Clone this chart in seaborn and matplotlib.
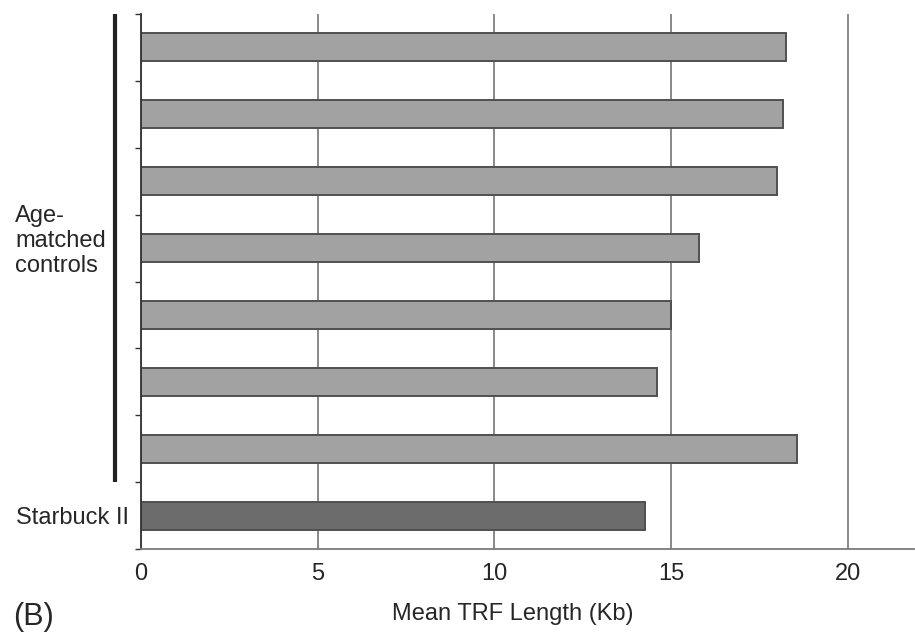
import pandas as pd
import matplotlib
matplotlib.use("Agg")
import matplotlib.pyplot as plt
import matplotlib.transforms as mtransforms
import seaborn as sns

# data
samples = ["Control 1", "Control 2", "Control 3", "Control 4",
           "Control 5", "Control 6", "Control 7", "Starbuck II"]
trf_length = [18.25, 18.15, 18.0, 15.8, 15.0, 14.6, 18.55, 14.25]
groups = ["control"] * 7 + ["starbuck"]
tick_labels = ["Starbuck II"]

df = pd.DataFrame({"sample": samples, "trf": trf_length, "group": groups})

sns.set_style("white")
plt.rcParams["font.family"] = ["Liberation Sans", "DejaVu Sans"]

fig = plt.figure(figsize=(9.15, 6.32), dpi=100)
ax = fig.add_axes([141 / 915, 1 - 549 / 632, 773 / 915, 535 / 632])

sns.barplot(data=df, x="trf", y="sample", hue="group", orient="h",
            palette={"control": "#a2a2a2", "starbuck": "#6c6c6c"},
            width=0.42, dodge=False, legend=False,
            edgecolor="#505050", linewidth=1.4, ax=ax)

ax.set_xlim(0, 21.87)
ax.set_ylim(7.5, -0.5)
ax.set_xticks([0, 5, 10, 15, 20])
ax.set_xticklabels(["0", "5", "10", "15", "20"], fontsize=17)
ax.set_yticks([7])
ax.set_yticklabels(tick_labels, fontsize=17)
ax.set_yticks([i - 0.5 for i in range(9)], minor=True)
ax.tick_params(axis="x", length=0, pad=10)
ax.tick_params(axis="y", which="major", length=0, pad=9)
ax.tick_params(axis="y", which="minor", length=4, width=1, color="#333333",
               direction="out", left=True)
ax.set_xlabel("")
ax.set_ylabel("")

ax.grid(axis="x", color="#6a6a6a", linewidth=1.1)
ax.set_axisbelow(True)
for side in ["top", "right"]:
    ax.spines[side].set_visible(False)
ax.spines["left"].set_color("#333333")
ax.spines["left"].set_linewidth(1.3)
ax.spines["bottom"].set_color("#7a7a7a")
ax.spines["bottom"].set_linewidth(1.3)

# bracket for the control group
trans = mtransforms.blended_transform_factory(ax.transAxes, ax.transData)
ax.plot([-26 / 773, -26 / 773], [-0.5, 6.5], color="#222222", linewidth=3,
        transform=trans, clip_on=False, solid_capstyle="butt")

fig.text(15 / 915, 1 - 241 / 632, "Age-\nmatched\ncontrols", ha="left",
         va="center", fontsize=17, linespacing=1.15)
fig.text(513 / 915, 1 - 614 / 632, "Mean TRF Length (Kb)", ha="center",
         va="center", fontsize=17)
fig.text(13 / 915, 1 - 617 / 632, "(B)", ha="left", va="center", fontsize=22)

fig.savefig("out.png", dpi=100)
